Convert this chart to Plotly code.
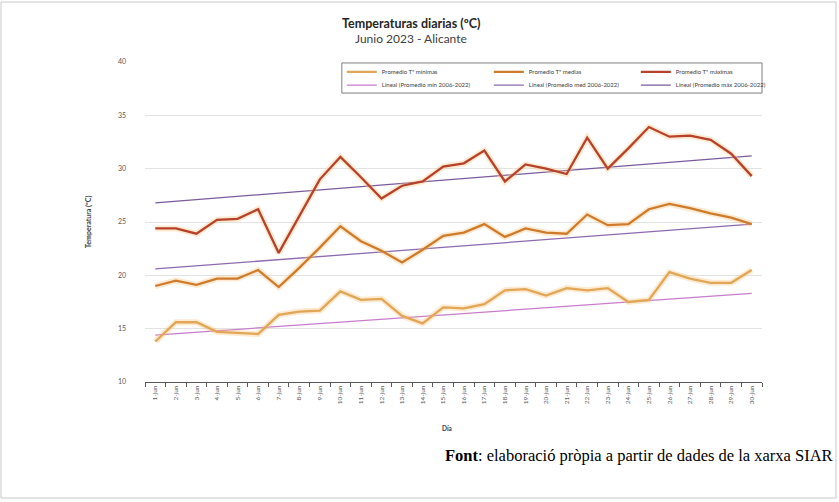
import plotly.graph_objects as go

days = [f"{d}-jun" for d in range(1, 31)]

t_min = [13.8, 15.6, 15.6, 14.7, 14.6, 14.5, 16.3, 16.6, 16.7, 18.5,
         17.7, 17.8, 16.2, 15.5, 17.0, 16.9, 17.3, 18.6, 18.7, 18.1,
         18.8, 18.6, 18.8, 17.5, 17.7, 20.3, 19.7, 19.3, 19.3, 20.5]
t_med = [19.0, 19.5, 19.1, 19.7, 19.7, 20.5, 18.9, 20.7, 22.6, 24.6,
         23.2, 22.3, 21.2, 22.4, 23.7, 24.0, 24.8, 23.6, 24.4, 24.0,
         23.9, 25.7, 24.7, 24.8, 26.2, 26.7, 26.3, 25.8, 25.4, 24.8]
t_max = [24.4, 24.4, 23.9, 25.2, 25.3, 26.2, 22.1, 25.6, 29.0, 31.1,
         29.2, 27.2, 28.4, 28.8, 30.2, 30.5, 31.7, 28.8, 30.4, 30.0,
         29.5, 32.9, 30.0, 31.9, 33.9, 33.0, 33.1, 32.7, 31.4, 29.3]

trend_days = ["1-jun", "30-jun"]
trend_min = [14.4, 18.3]
trend_med = [20.6, 24.8]
trend_max = [26.8, 31.2]

c_min, c_med, c_max = "#E2A657", "#CF7B2C", "#B7412B"
c_tmin, c_tmed, c_tmax = "#C77DCB", "#8E6AAE", "#7A5C9E"

fig = go.Figure()

# trend lines (second legend row)
for name, vals, col in [
    ("Lineal (Promedio mín 2006-2022)", trend_min, c_tmin),
    ("Lineal (Promedio med 2006-2022)", trend_med, c_tmed),
    ("Lineal (Promedio máx 2006-2022)", trend_max, c_tmax),
]:
    fig.add_trace(go.Scatter(x=trend_days, y=vals, mode="lines", name=name,
                             line=dict(color=col, width=1.3), legend="legend2"))

# glow + main lines (first legend row)
for name, vals, col in [
    ("Promedio Tª mínimas", t_min, c_min),
    ("Promedio Tª medias", t_med, c_med),
    ("Promedio Tª máximas", t_max, c_max),
]:
    fig.add_trace(go.Scatter(x=days, y=vals, mode="lines", showlegend=False,
                             line=dict(color="rgba(250,195,120,0.35)", width=6),
                             hoverinfo="skip"))
    fig.add_trace(go.Scatter(x=days, y=vals, mode="lines", name=name,
                             line=dict(color=col, width=2.3), legend="legend"))

leg_common = dict(orientation="h", bgcolor="rgba(0,0,0,0)", borderwidth=0,
                  font=dict(family="Lato", size=6, color="#404040"),
                  yanchor="middle", xanchor="left", itemwidth=30,
                  entrywidth=102, entrywidthmode="pixels")

fig.update_layout(
    width=839, height=502,
    margin=dict(l=145, r=77, t=62, b=120),
    paper_bgcolor="white", plot_bgcolor="white",
    font=dict(family="Lato", color="#595959"),
    showlegend=True,
    legend=dict(x=0.319, y=0.969, **leg_common),
    legend2=dict(x=0.319, y=0.928, **leg_common),
    xaxis=dict(type="category", categoryorder="array", categoryarray=days,
               range=[-0.5, 29.5], tickangle=-90, tickson="boundaries",
               ticks="outside", ticklen=4, tickcolor="#595959",
               showline=True, linecolor="#595959", linewidth=1,
               showgrid=False, tickfont=dict(size=6.5, color="#595959"),
               zeroline=False),
    yaxis=dict(range=[10, 40], dtick=5, showgrid=True, gridcolor="#E3E3E3",
               gridwidth=1, zeroline=False, showline=False, ticks="",
               tickfont=dict(size=7, color="#595959"), ticklabelstandoff=18),
)

fig.add_shape(type="rect", xref="paper", yref="paper",
              x0=0.319, x1=1.0, y0=0.903, y1=0.997,
              line=dict(color="#7F7F7F", width=1), fillcolor="rgba(0,0,0,0)")

# overall chart border
fig.add_shape(type="rect", xref="paper", yref="paper",
              x0=-144/617, x1=(839 - 145 - 3) / 617,
              y0=-(120 - 4) / 320, y1=(62 - 2) / 320 + 1,
              line=dict(color="#C8C8C8", width=1), fillcolor="rgba(0,0,0,0)")

fig.add_annotation(text="<b>Temperaturas diarias (ºC)</b>", xref="paper", yref="paper",
                   x=(411 - 145) / 617, y=1 + (62 - 23) / 320, showarrow=False,
                   yanchor="middle", xanchor="center",
                   font=dict(family="Lato", size=12.5, color="#262626"))
fig.add_annotation(text="Junio 2023 - Alicante", xref="paper", yref="paper",
                   x=(411 - 145) / 617, y=1 + (62 - 38) / 320, showarrow=False,
                   yanchor="middle", xanchor="center",
                   font=dict(family="Lato", size=12, color="#404040"))
fig.add_annotation(text="<b>Temperatura (ºC)</b>", xref="paper", yref="paper",
                   x=(88 - 145) / 617, y=0.5, textangle=-90, showarrow=False,
                   yanchor="middle", xanchor="center",
                   font=dict(family="Lato", size=7, color="#404040"))
fig.add_annotation(text="<b>Día</b>", xref="paper", yref="paper",
                   x=(447 - 145) / 617, y=-(428 - 382) / 320, showarrow=False,
                   yanchor="middle", xanchor="center",
                   font=dict(family="Lato", size=6.5, color="#404040"))
fig.add_annotation(text="<b>Font</b>: elaboració pròpia a partir de dades de la xarxa SIAR",
                   xref="paper", yref="paper", xanchor="right", yanchor="middle",
                   x=(835 - 145) / 617, y=-(455 - 382) / 320, showarrow=False,
                   font=dict(family="Liberation Serif", size=16.5, color="#000000"))

fig.write_html("out.html", config={"displayModeBar": False},
               post_script="document.body.style.margin='0px';")
